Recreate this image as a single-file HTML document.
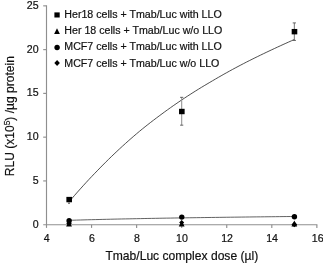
<!DOCTYPE html><html><head><meta charset="utf-8"><title>chart</title><style>html,body{margin:0;padding:0;background:#fff}svg{display:block}text{font-family:"Liberation Sans",sans-serif;fill:#111;stroke:#111;stroke-width:0.2px}</style></head><body>
<svg width="323" height="265" viewBox="0 0 323 265">
<rect width="323" height="265" fill="#fff"/>
<g stroke="#8f8f8f" stroke-width="1.15" fill="none">
<path d="M46.5 5.349999999999994V227.89999999999998"/>
<path d="M43.2 224.7H317.36"/>
<path d="M43.2 180.93H46.5"/>
<path d="M43.2 137.16H46.5"/>
<path d="M43.2 93.39H46.5"/>
<path d="M43.2 49.62H46.5"/>
<path d="M43.2 5.85H46.5"/>
<path d="M91.56 224.7V227.89999999999998"/>
<path d="M136.62 224.7V227.89999999999998"/>
<path d="M181.68 224.7V227.89999999999998"/>
<path d="M226.74 224.7V227.89999999999998"/>
<path d="M271.80 224.7V227.89999999999998"/>
<path d="M316.86 224.7V227.89999999999998"/>
</g>
<g font-size="10.6" text-anchor="end">
<text x="38.6" y="227.70">0</text>
<text x="38.6" y="183.93">5</text>
<text x="38.6" y="140.16">10</text>
<text x="38.6" y="96.39">15</text>
<text x="38.6" y="52.62">20</text>
<text x="38.6" y="8.85">25</text>
</g>
<g font-size="10.6" text-anchor="middle">
<text x="46.80" y="241.5">4</text>
<text x="91.86" y="241.5">6</text>
<text x="136.92" y="241.5">8</text>
<text x="181.98" y="241.5">10</text>
<text x="227.04" y="241.5">12</text>
<text x="272.10" y="241.5">14</text>
<text x="317.66" y="241.5">16</text>
</g>
<text x="105.4" y="259.8" font-size="12.1">Tmab/Luc complex dose (µl)</text>
<text transform="translate(14.3 176.2) rotate(-90)" font-size="12.05">RLU (x10<tspan dy="-4.3" font-size="8.4">5</tspan><tspan dy="4.3">) /µg protein</tspan></text>
<polyline points="69.03,201.87 71.85,198.56 74.66,195.30 77.48,192.08 80.30,188.91 83.11,185.79 85.93,182.71 88.74,179.67 91.56,176.68 94.38,173.73 97.19,170.83 100.01,167.93 102.83,165.06 105.64,162.24 108.46,159.45 111.27,156.71 114.09,154.01 116.91,151.34 119.72,148.71 122.54,146.12 125.36,143.57 128.17,141.05 130.99,138.57 133.80,136.13 136.62,133.72 139.44,131.35 142.25,129.04 145.07,126.78 147.88,124.55 150.70,122.35 153.52,120.19 156.33,118.05 159.15,115.95 161.97,113.86 164.78,111.79 167.60,109.75 170.42,107.74 173.23,105.76 176.05,103.80 178.86,101.88 181.68,99.98 184.50,98.10 187.31,96.26 190.13,94.44 192.94,92.64 195.76,90.87 198.58,89.12 201.39,87.40 204.21,85.70 207.03,84.02 209.84,82.37 212.66,80.70 215.48,79.04 218.29,77.41 221.11,75.80 223.92,74.20 226.74,72.63 229.56,71.07 232.37,69.53 235.19,68.01 238.00,66.51 240.82,65.02 243.64,63.55 246.45,62.10 249.27,60.68 252.09,59.27 254.90,57.87 257.72,56.49 260.54,55.12 263.35,53.76 266.17,52.41 268.98,51.08 271.80,49.75 274.62,48.44 277.43,47.14 280.25,45.84 283.06,44.56 285.88,43.29 288.70,42.02 291.51,40.76 294.33,39.51" fill="none" stroke="#222" stroke-width="0.8"/>
<polyline points="69.03,220.32 72.79,220.21 76.54,220.10 80.30,219.99 84.05,219.88 87.80,219.78 91.56,219.68 95.32,219.59 99.07,219.50 102.83,219.40 106.58,219.32 110.33,219.23 114.09,219.14 117.84,219.06 121.60,218.98 125.36,218.90 129.11,218.83 132.87,218.75 136.62,218.68 140.38,218.61 144.13,218.53 147.88,218.46 151.64,218.40 155.40,218.33 159.15,218.26 162.91,218.20 166.66,218.14 170.42,218.08 174.17,218.01 177.92,217.95 181.68,217.90 185.44,217.84 189.19,217.78 192.94,217.73 196.70,217.67 200.45,217.62 204.21,217.56 207.97,217.51 211.72,217.46 215.48,217.41 219.23,217.36 222.98,217.31 226.74,217.26 230.50,217.21 234.25,217.16 238.00,217.11 241.76,217.07 245.51,217.02 249.27,216.98 253.03,216.93 256.78,216.89 260.54,216.85 264.29,216.80 268.05,216.76 271.80,216.72 275.56,216.68 279.31,216.64 283.06,216.59 286.82,216.55 290.58,216.52 294.33,216.48" fill="none" stroke="#3a3a3a" stroke-width="0.8"/>
<path d="M69.03 199.58V203.52M68.03 203.52h2" stroke="#666" stroke-width="0.8" fill="none"/>
<path d="M181.68 97.33V125.17" stroke="#959595" stroke-width="1.1" fill="none"/>
<path d="M180.08 97.33h3.2M180.08 125.17h3.2" stroke="#555" stroke-width="0.9" fill="none"/>
<path d="M294.33 22.92V40.43" stroke="#666" stroke-width="0.9" fill="none"/>
<path d="M292.73 22.92h3.2M292.73 40.43h3.2" stroke="#555" stroke-width="0.9" fill="none"/>
<rect x="66.38" y="196.88" width="5.6" height="5.4" fill="#000"/>
<rect x="179.03" y="108.81" width="5.6" height="5.4" fill="#000"/>
<rect x="291.68" y="28.97" width="5.6" height="5.4" fill="#000"/>
<circle cx="69.13" cy="220.8" r="2.7" fill="#000"/>
<circle cx="181.78" cy="217.1" r="2.7" fill="#000"/>
<circle cx="294.43" cy="216.7" r="2.7" fill="#000"/>
<path d="M69.03 220.60L71.93 226.40H66.13Z" fill="#000"/>
<path d="M69.03 220.40L71.83 223.20L69.03 226.00L66.23 223.20Z" fill="#000"/>
<path d="M181.68 220.60L184.58 226.40H178.78Z" fill="#000"/>
<path d="M181.68 220.10L184.18 222.60L181.68 225.10L179.18 222.60Z" fill="#000"/>
<path d="M294.33 220.60L297.23 226.40H291.43Z" fill="#000"/>
<path d="M294.33 221.60L297.13 224.40L294.33 227.20L291.53 224.40Z" fill="#000"/>
<g font-size="10.65">
<text x="64.3" y="17.6">Her18 cells + Tmab/Luc with LLO</text>
<text x="64.3" y="33.8">Her 18 cells + Tmab/Luc w/o LLO</text>
<text x="64.3" y="50.2">MCF7 cells + Tmab/Luc with LLO</text>
<text x="64.3" y="66.5">MCF7 cells + Tmab/Luc w/o LLO</text>
</g>
<rect x="54.4" y="12.4" width="5.3" height="5.1" fill="#000"/>
<path d="M57 28.3L59.9 34.1H54.1Z" fill="#000"/>
<circle cx="57.1" cy="47.5" r="2.7" fill="#000"/>
<path d="M57.1 59.9L59.9 63L57.1 66.1L54.3 63Z" fill="#000"/>
</svg></body></html>
